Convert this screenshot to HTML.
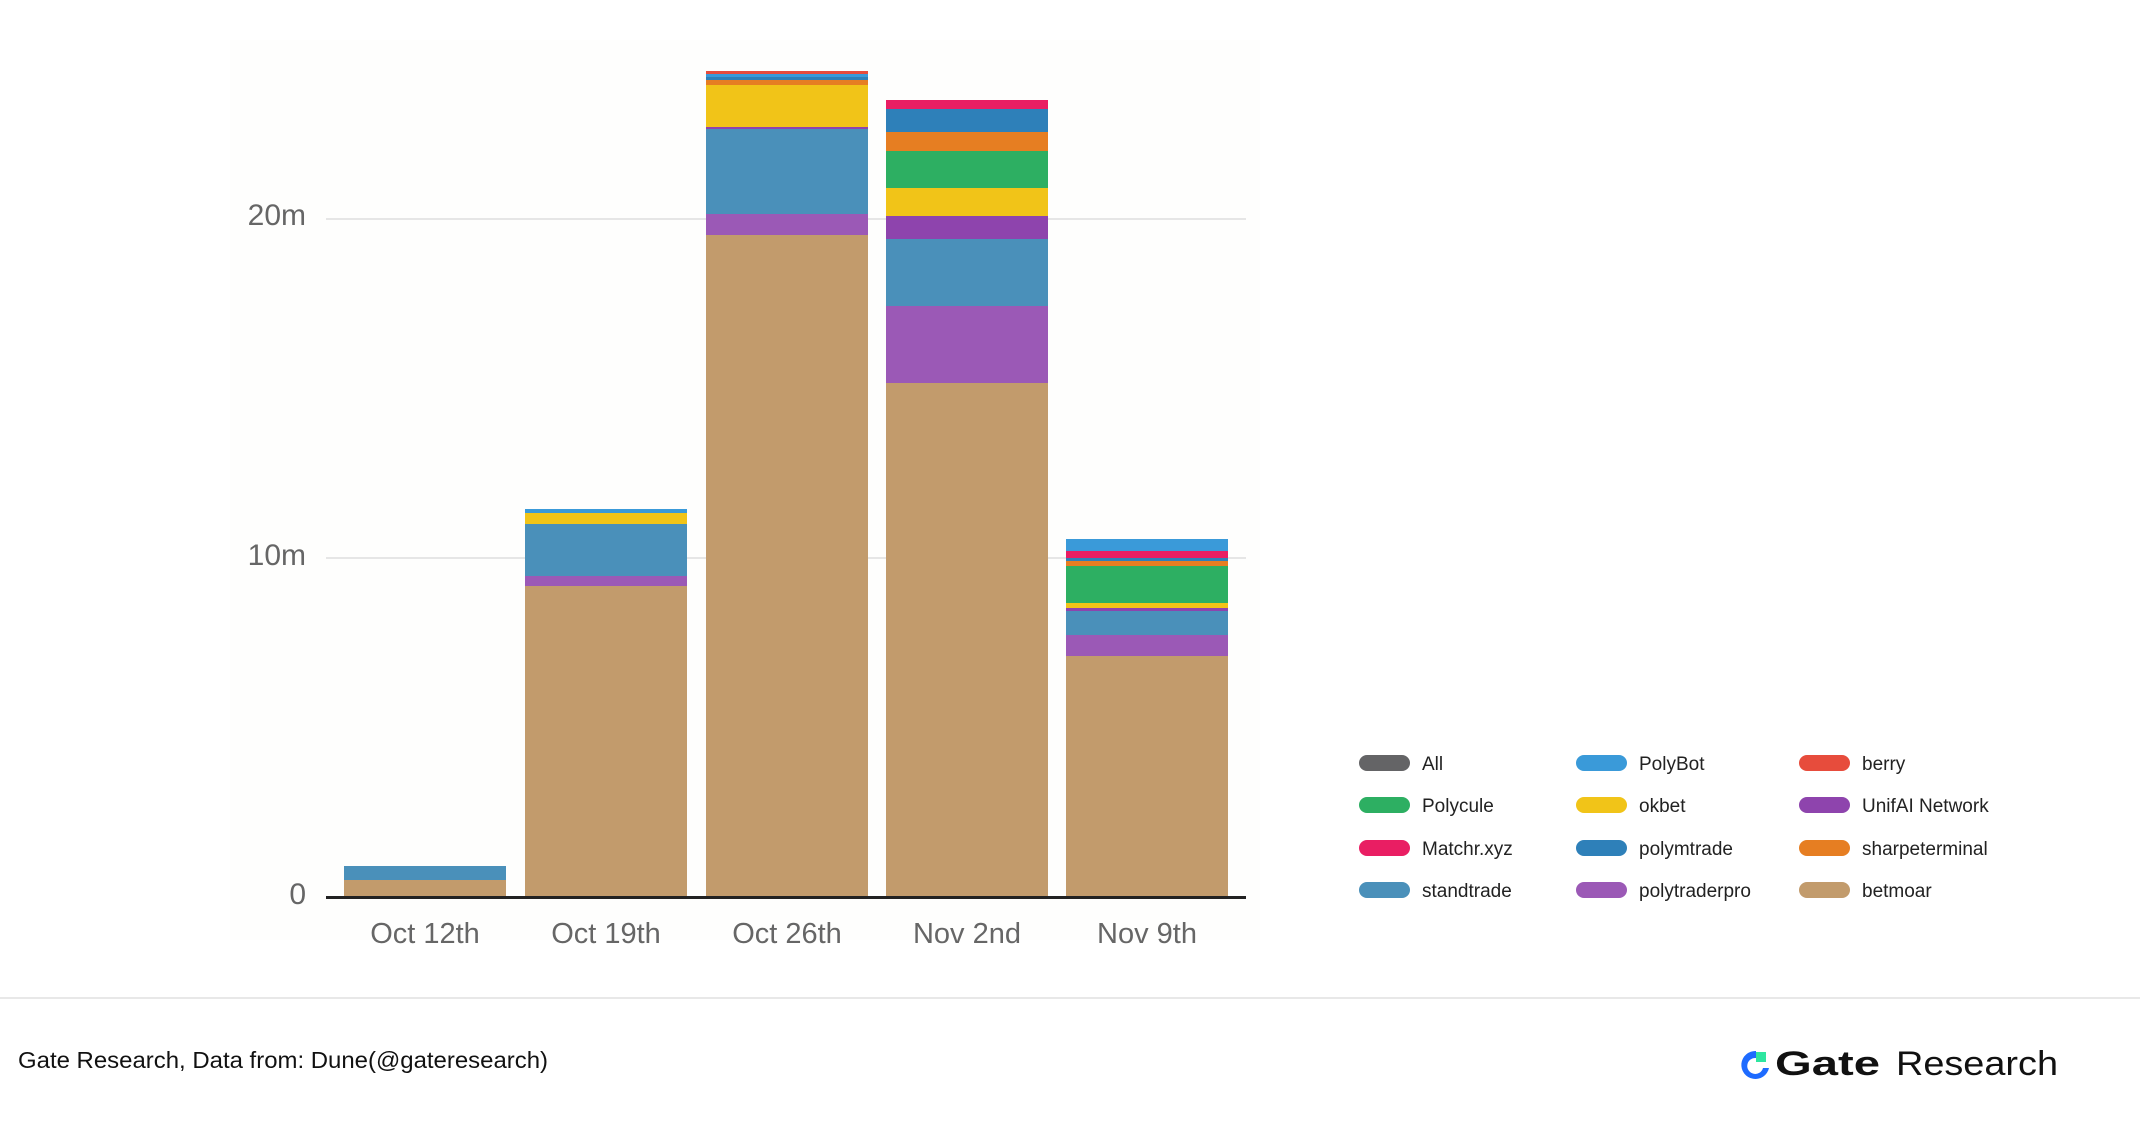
<!DOCTYPE html>
<html><head><meta charset="utf-8"><style>
html,body{margin:0;padding:0;background:#fff;width:2140px;height:1128px;overflow:hidden}
svg{display:block}
</style></head><body>
<svg width="2140" height="1128" xmlns="http://www.w3.org/2000/svg" font-family="Liberation Sans, sans-serif">
<rect width="2140" height="1128" fill="#fff"/>
<rect x="230" y="40" width="1030" height="900" fill="#fefefd"/>
<line x1="326" y1="219" x2="1246" y2="219" stroke="#e6e6e6" stroke-width="2"/>
<line x1="326" y1="558" x2="1246" y2="558" stroke="#e6e6e6" stroke-width="2"/>
<g font-size="30" fill="#666" text-anchor="end">
<text x="306" y="225">20m</text><text x="306" y="565">10m</text><text x="306" y="904">0</text>
</g>
<!-- Oct 12 -->
<rect x="344" y="866" width="162" height="14" fill="#4a90ba"/>
<rect x="344" y="880" width="162" height="17" fill="#c29b6c"/>
<!-- Oct 19 -->
<rect x="525" y="509" width="162" height="4" fill="#3a9ad9"/>
<rect x="525" y="513" width="162" height="11" fill="#f1c418"/>
<rect x="525" y="524" width="162" height="52" fill="#4a90ba"/>
<rect x="525" y="576" width="162" height="10" fill="#9b59b6"/>
<rect x="525" y="586" width="162" height="311" fill="#c29b6c"/>
<!-- Oct 26 -->
<rect x="706" y="71" width="162" height="3" fill="#e74c3c"/>
<rect x="706" y="74" width="162" height="3" fill="#3a9ad9"/>
<rect x="706" y="77" width="162" height="3" fill="#2e80b9"/>
<rect x="706" y="80" width="162" height="5" fill="#e67e22"/>
<rect x="706" y="85" width="162" height="42" fill="#f1c418"/>
<rect x="706" y="127" width="162" height="2" fill="#8e44ad"/>
<rect x="706" y="129" width="162" height="85" fill="#4a90ba"/>
<rect x="706" y="214" width="162" height="21" fill="#9b59b6"/>
<rect x="706" y="235" width="162" height="662" fill="#c29b6c"/>
<!-- Nov 2 -->
<rect x="886" y="100" width="162" height="9" fill="#e91e63"/>
<rect x="886" y="109" width="162" height="23" fill="#2e80b9"/>
<rect x="886" y="132" width="162" height="19" fill="#e67e22"/>
<rect x="886" y="151" width="162" height="37" fill="#2daf62"/>
<rect x="886" y="188" width="162" height="28" fill="#f1c418"/>
<rect x="886" y="216" width="162" height="23" fill="#8e44ad"/>
<rect x="886" y="239" width="162" height="67" fill="#4a90ba"/>
<rect x="886" y="306" width="162" height="77" fill="#9b59b6"/>
<rect x="886" y="383" width="162" height="514" fill="#c29b6c"/>
<!-- Nov 9 -->
<rect x="1066" y="539" width="162" height="12" fill="#3a9ad9"/>
<rect x="1066" y="551" width="162" height="7" fill="#e91e63"/>
<rect x="1066" y="558" width="162" height="3" fill="#2e80b9"/>
<rect x="1066" y="561" width="162" height="5" fill="#e67e22"/>
<rect x="1066" y="566" width="162" height="37" fill="#2daf62"/>
<rect x="1066" y="603" width="162" height="5" fill="#f1c418"/>
<rect x="1066" y="608" width="162" height="3" fill="#8e44ad"/>
<rect x="1066" y="611" width="162" height="24" fill="#4a90ba"/>
<rect x="1066" y="635" width="162" height="21" fill="#9b59b6"/>
<rect x="1066" y="656" width="162" height="241" fill="#c29b6c"/>
<line x1="326" y1="897.5" x2="1246" y2="897.5" stroke="#222" stroke-width="3"/>
<g font-size="29" fill="#666" text-anchor="middle">
<text x="425" y="943">Oct 12th</text><text x="606" y="943">Oct 19th</text><text x="787" y="943">Oct 26th</text><text x="967" y="943">Nov 2nd</text><text x="1147" y="943">Nov 9th</text>
</g>
<!-- legend -->
<g font-size="19" fill="#222">
<rect x="1359" y="755" width="51" height="16" rx="8" fill="#646466"/><text x="1422" y="770">All</text>
<rect x="1576" y="755" width="51" height="16" rx="8" fill="#3a9ad9"/><text x="1639" y="770">PolyBot</text>
<rect x="1799" y="755" width="51" height="16" rx="8" fill="#e74c3c"/><text x="1862" y="770">berry</text>
<rect x="1359" y="797" width="51" height="16" rx="8" fill="#2daf62"/><text x="1422" y="812">Polycule</text>
<rect x="1576" y="797" width="51" height="16" rx="8" fill="#f1c418"/><text x="1639" y="812">okbet</text>
<rect x="1799" y="797" width="51" height="16" rx="8" fill="#8e44ad"/><text x="1862" y="812">UnifAI Network</text>
<rect x="1359" y="840" width="51" height="16" rx="8" fill="#e91e63"/><text x="1422" y="855">Matchr.xyz</text>
<rect x="1576" y="840" width="51" height="16" rx="8" fill="#2e80b9"/><text x="1639" y="855">polymtrade</text>
<rect x="1799" y="840" width="51" height="16" rx="8" fill="#e67e22"/><text x="1862" y="855">sharpeterminal</text>
<rect x="1359" y="882" width="51" height="16" rx="8" fill="#4a90ba"/><text x="1422" y="897">standtrade</text>
<rect x="1576" y="882" width="51" height="16" rx="8" fill="#9b59b6"/><text x="1639" y="897">polytraderpro</text>
<rect x="1799" y="882" width="51" height="16" rx="8" fill="#c29b6c"/><text x="1862" y="897">betmoar</text>
</g>
<line x1="0" y1="998" x2="2140" y2="998" stroke="#e8e8e8" stroke-width="2"/>
<text x="18" y="1068" font-size="23" fill="#111" textLength="530" lengthAdjust="spacingAndGlyphs">Gate Research, Data from: Dune(@gateresearch)</text>
<!-- logo -->
<path d="M1769 1068 A14 14 0 1 1 1756 1051 L1756 1058 A8 8 0 1 0 1763 1068 Z" fill="#1e6bff"/>
<rect x="1756" y="1052" width="10" height="10" fill="#2ee6a0"/>
<text x="1775" y="1075" font-size="34" font-weight="bold" fill="#111" textLength="105" lengthAdjust="spacingAndGlyphs">Gate</text>
<text x="1896" y="1075" font-size="34" fill="#111" textLength="162" lengthAdjust="spacingAndGlyphs">Research</text>
</svg>
</body></html>
